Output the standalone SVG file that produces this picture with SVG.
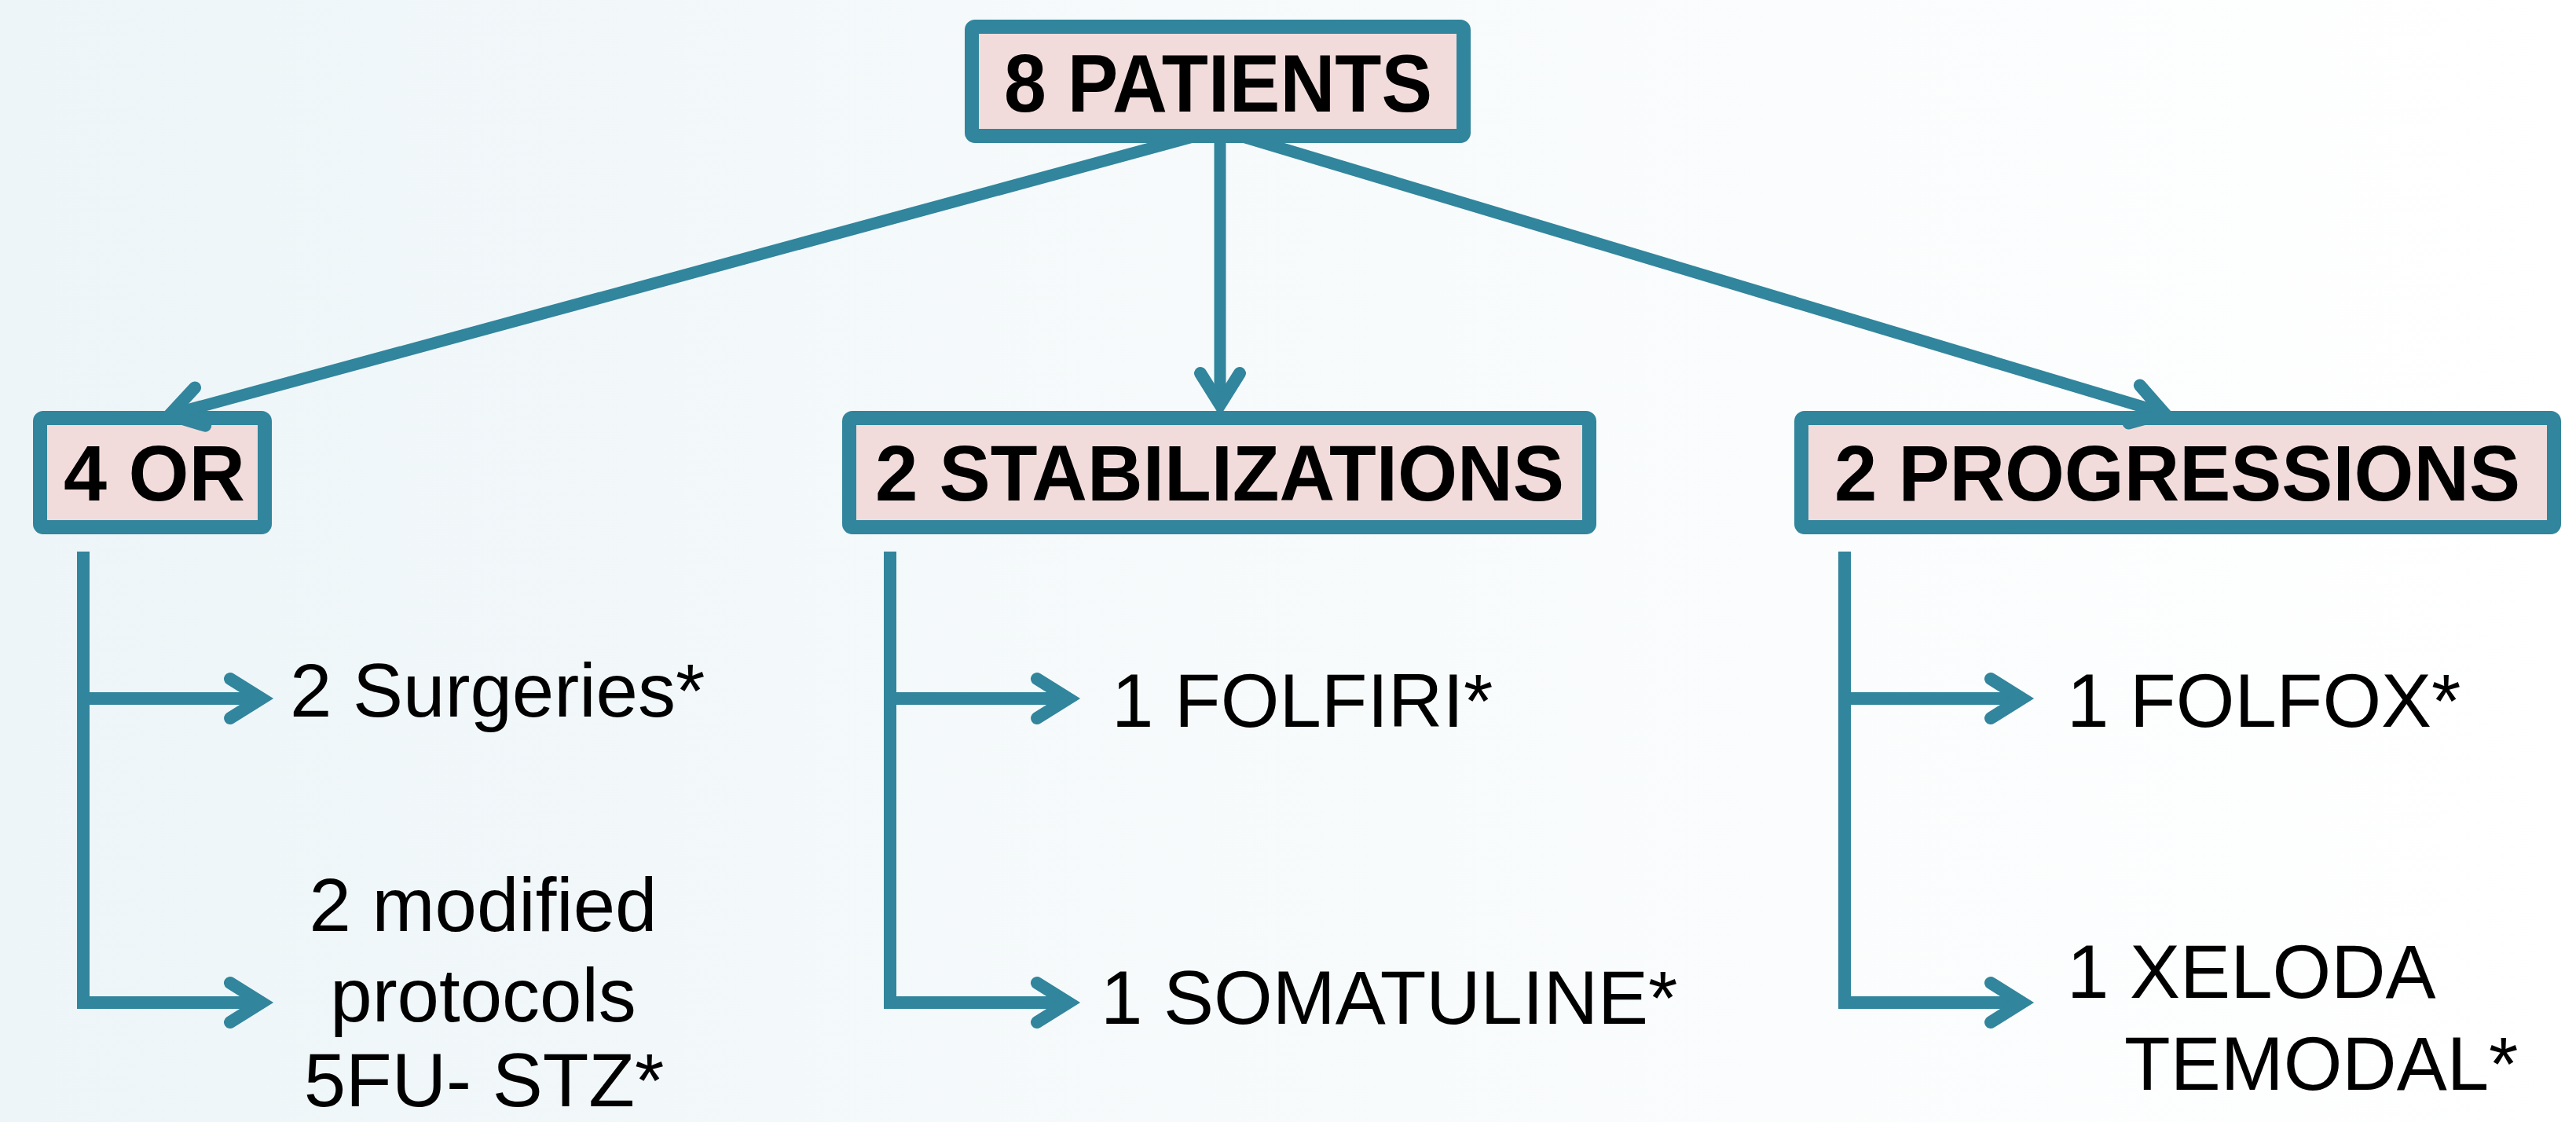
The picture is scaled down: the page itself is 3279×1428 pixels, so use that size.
<svg xmlns="http://www.w3.org/2000/svg" width="3279" height="1428" viewBox="0 0 3279 1428">
<defs>
<linearGradient id="bg" x1="0" y1="0" x2="1" y2="0">
<stop offset="0" stop-color="#edf5f8"/>
<stop offset="0.55" stop-color="#f8fbfc"/>
<stop offset="1" stop-color="#ffffff"/>
</linearGradient>
<marker id="ah" markerUnits="userSpaceOnUse" viewBox="-70 -50 90 100" refX="0" refY="0" markerWidth="90" markerHeight="100" orient="auto" overflow="visible">
<path d="M -40 -25 L 0 0 L -40 25" fill="none" stroke="#31859c" stroke-width="16" stroke-linecap="round" stroke-linejoin="miter"/>
</marker>
<style>
.box{fill:#f2dcdb;stroke:#31859c;stroke-width:18}
.bt{font-family:"Liberation Sans",Arial,sans-serif;font-weight:bold;font-size:100px;fill:#000}
.t{font-family:"Liberation Sans",Arial,sans-serif;font-size:96px;fill:#000}
.c{fill:none;stroke:#31859c;stroke-width:15;stroke-linejoin:miter}
.b{fill:none;stroke:#31859c;stroke-width:16;stroke-linejoin:miter}
</style>
</defs>
<rect width="3279" height="1428" fill="url(#bg)"/>

<g id="node-or">
<rect class="box" x="51" y="532" width="286" height="139" rx="4"/>
<text class="bt" x="81" y="637" textLength="231" lengthAdjust="spacingAndGlyphs">4 OR</text>
</g>
<g id="node-stab">
<rect class="box" x="1081" y="532" width="942" height="139" rx="4"/>
<text class="bt" x="1114" y="637" textLength="877" lengthAdjust="spacingAndGlyphs">2 STABILIZATIONS</text>
</g>
<g id="node-prog">
<rect class="box" x="2293" y="532" width="958" height="139" rx="4"/>
<text class="bt" x="2335" y="637" textLength="873" lengthAdjust="spacingAndGlyphs">2 PROGRESSIONS</text>
</g>

<g id="connectors">
<line class="c" x1="1552" y1="165" x2="216" y2="528" marker-end="url(#ah)"/>
<line class="c" x1="1553" y1="165" x2="1553" y2="515" marker-end="url(#ah)"/>
<line class="c" x1="1552" y1="165" x2="2755" y2="526" marker-end="url(#ah)"/>

<path class="b" d="M 106 702 V 1276 H 333" marker-end="url(#ah)"/>
<path class="b" d="M 106 889 H 333" marker-end="url(#ah)"/>

<path class="b" d="M 1133 702 V 1276 H 1360" marker-end="url(#ah)"/>
<path class="b" d="M 1133 889 H 1360" marker-end="url(#ah)"/>

<path class="b" d="M 2348 702 V 1276 H 2574" marker-end="url(#ah)"/>
<path class="b" d="M 2348 889 H 2574" marker-end="url(#ah)"/>
</g>

<g id="node-patients">
<rect class="box" x="1237" y="34" width="626" height="139" rx="4"/>
<text class="bt" x="1278" y="142" textLength="545" lengthAdjust="spacingAndGlyphs" style="font-size:104px">8 PATIENTS</text>
</g>

<g id="leaf-surgeries"><text class="t" x="369" y="912">2 Surgeries*</text></g>
<g id="leaf-modified">
<text class="t" x="615" y="1185" text-anchor="middle">2 modified</text>
<text class="t" x="615" y="1300" text-anchor="middle">protocols</text>
<text class="t" x="616" y="1408" text-anchor="middle">5FU- STZ*</text>
</g>
<g id="leaf-folfiri"><text class="t" x="1415" y="925">1 FOLFIRI*</text></g>
<g id="leaf-somatuline"><text class="t" x="1401" y="1303">1 SOMATULINE*</text></g>
<g id="leaf-folfox"><text class="t" x="2631" y="925">1 FOLFOX*</text></g>
<g id="leaf-xeloda">
<text class="t" x="2631" y="1270">1 XELODA</text>
<text class="t" x="2704" y="1387">TEMODAL*</text>
</g>
</svg>
